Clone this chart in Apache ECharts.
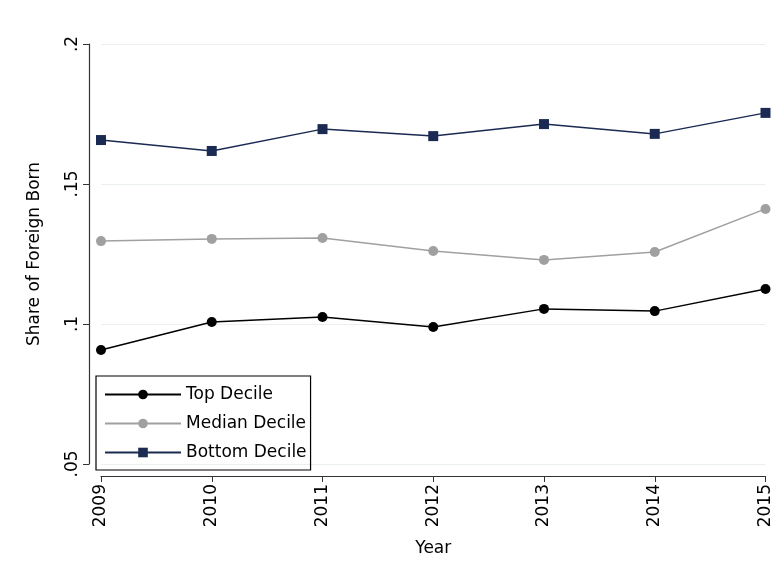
<!DOCTYPE html>
<html>
<head>
<meta charset="utf-8">
<script src="https://cdn.jsdelivr.net/npm/echarts@6/dist/echarts.min.js"></script>
<style>html,body{margin:0;padding:0;background:#fff}#chart{width:774px;height:581px}</style>
</head>
<body>
<div id="chart"></div>
<script>
var years = ['2009','2010','2011','2012','2013','2014','2015'];
var topDecile = [0.0907, 0.1007, 0.1025, 0.0989, 0.1054, 0.1046, 0.1125];
var medianDecile = [0.1296, 0.1304, 0.1307, 0.1261, 0.1229, 0.1257, 0.1411];
var bottomDecile = [0.1657, 0.1618, 0.1696, 0.1671, 0.1714, 0.1679, 0.1754];

var font = 'DejaVu Sans';
var chart = echarts.init(document.getElementById('chart'));

function line(name, data, color, symbol) {
    return {
        name: name, type: 'line', data: data,
        symbol: symbol, symbolSize: 10,
        lineStyle: {color: color, width: 1.5},
        itemStyle: {color: color},
        animation: false
    };
}

chart.setOption({
    textStyle: {fontFamily: font},
    grid: {left: 101, right: 3, top: 44, bottom: 117},
    legend: {
        orient: 'vertical', left: 96, top: 376,
        itemWidth: 76, itemHeight: 12, itemGap: 12,
        padding: [10, 4, 9, 8],
        borderColor: '#000', borderWidth: 1.2, borderRadius: 0,
        textStyle: {fontSize: 17, color: '#000', fontFamily: font},
        data: ['Top Decile', 'Median Decile', 'Bottom Decile']
    },
    xAxis: {
        type: 'category', data: years, boundaryGap: false, offset: 12,
        name: 'Year', nameLocation: 'middle', nameGap: 64,
        nameTextStyle: {fontSize: 17, color: '#000'},
        axisLine: {lineStyle: {color: '#333', width: 1.2}},
        axisTick: {alignWithLabel: true, length: 6, lineStyle: {color: '#333'}},
        axisLabel: {rotate: 90, fontSize: 17, color: '#000', margin: 8}
    },
    yAxis: {
        type: 'value', min: 0.05, max: 0.2, interval: 0.05, offset: 12,
        name: 'Share of Foreign Born', nameLocation: 'middle', nameGap: 46,
        nameTextStyle: {fontSize: 17, color: '#000'},
        axisLine: {show: true, lineStyle: {color: '#333', width: 1.2}},
        axisTick: {show: true, length: 6, lineStyle: {color: '#333'}},
        splitLine: {lineStyle: {color: '#eaf0f2'}},
        axisLabel: {
            rotate: 90, fontSize: 17, color: '#000', margin: 8,
            formatter: function (v) { return String(+v.toFixed(2)).replace(/^0/, ''); }
        }
    },
    series: [
        line('Top Decile', topDecile, '#000000', 'circle'),
        line('Median Decile', medianDecile, '#a0a0a0', 'circle'),
        line('Bottom Decile', bottomDecile, '#1a2a52', 'rect')
    ]
});
</script>
</body>
</html>
